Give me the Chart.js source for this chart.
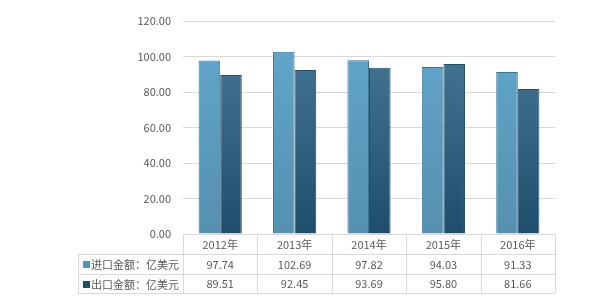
<!DOCTYPE html>
<html><head><meta charset="utf-8">
<script src="https://cdn.jsdelivr.net/npm/chart.js@4"></script>
<style>html,body{margin:0;padding:0;background:#fff}#w{width:604px;height:303px}</style>
</head><body><div id="w"><canvas id="c" width="604" height="303"></canvas></div>
<script>
const categories = ['2012年','2013年','2014年','2015年','2016年'];
const seriesNames = ['进口金额：亿美元','出口金额：亿美元'];
const importValues = [97.74, 102.69, 97.82, 94.03, 91.33];
const exportValues = [89.51, 92.45, 93.69, 95.80, 81.66];
const yTicks = [0, 20, 40, 60, 80, 100, 120];

const FONT = '"Noto Sans CJK SC", "Noto Sans", sans-serif';
const TXT = '#595959';
const LINE = '#d9d9d9';

function grad(ctx, top, bottom) {
  const ch = ctx.chart; const a = ch.chartArea;
  if (!a) return top;
  const g = ch.ctx.createLinearGradient(0, a.top, 0, a.bottom);
  g.addColorStop(0, top); g.addColorStop(1, bottom);
  return g;
}

const tablePlugin = {
  id: 'dataTable',
  afterDraw(chart) {
    const ctx = chart.ctx, a = chart.chartArea, xs = chart.scales.x;
    const rowH = 20;
    const tableLeft = 78;
    const y0 = a.bottom, y1 = y0 + rowH, y2 = y1 + rowH, y3 = y2 + 19;
    const step = (a.right - a.left) / categories.length;
    ctx.save();
    ctx.strokeStyle = LINE; ctx.lineWidth = 1;
    ctx.beginPath();
    // header top line
    ctx.moveTo(a.left, y0 + 0.5); ctx.lineTo(a.right, y0 + 0.5);
    [y1, y2, y3].forEach(y => { ctx.moveTo(tableLeft, y + 0.5); ctx.lineTo(a.right, y + 0.5); });
    ctx.moveTo(tableLeft + 0.5, y1); ctx.lineTo(tableLeft + 0.5, y3);
    for (let i = 0; i <= categories.length; i++) {
      const x = Math.round(a.left + i * step) + 0.5;
      ctx.moveTo(x, y0); ctx.lineTo(x, y3);
    }
    ctx.stroke();
    ctx.font = '11px ' + FONT;
    ctx.fillStyle = TXT;
    ctx.textAlign = 'center'; ctx.textBaseline = 'middle';
    categories.forEach((c, i) => {
      const x = xs.getPixelForValue(i);
      ctx.fillText(c, x, y0 + rowH / 2 + 1);
      ctx.fillText(importValues[i].toFixed(2), x, y1 + rowH / 2 + 1);
      ctx.fillText(exportValues[i].toFixed(2), x, y2 + rowH / 2);
    });
    const sq = ['#4f94b5', '#1f4f6a'];
    [y1, y2].forEach((y, k) => {
      ctx.fillStyle = sq[k];
      ctx.fillRect(83, y + rowH / 2 - 3, 7, 7);
      ctx.fillStyle = TXT; ctx.textAlign = 'left';
      ctx.fillText(seriesNames[k], 91, y + rowH / 2 + 1);
    });
    ctx.restore();
  }
};

new Chart(document.getElementById('c'), {
  type: 'bar',
  data: {
    labels: categories,
    datasets: [
      { label: seriesNames[0], data: importValues,
        backgroundColor: c => grad(c, '#63a8cc', '#5590b0'),
        borderColor: '#3d7595', borderWidth: 1, borderSkipped: 'bottom' },
      { label: seriesNames[1], data: exportValues,
        backgroundColor: c => grad(c, '#4a7a99', '#1d4f6d'),
        borderColor: '#24506a', borderWidth: 1, borderSkipped: 'bottom' }
    ]
  },
  options: {
    responsive: false, animation: false,
    layout: { padding: { left: 0, right: 49, top: 21, bottom: 69 } },
    plugins: { legend: { display: false }, tooltip: { enabled: false } },
    datasets: { bar: { categoryPercentage: 0.58, barPercentage: 1 } },
    scales: {
      x: { display: false },
      y: {
        min: 0, max: 120,
        afterFit(s) { s.width = 183; },
        afterBuildTicks(s) { s.ticks = yTicks.map(v => ({ value: v })); },
        border: { display: false },
        grid: { color: LINE, drawTicks: false },
        ticks: { padding: 12, color: TXT, font: { size: 11, family: FONT },
          callback: v => Number(v).toFixed(2) }
      }
    }
  },
  plugins: [tablePlugin]
});
</script></body></html>
